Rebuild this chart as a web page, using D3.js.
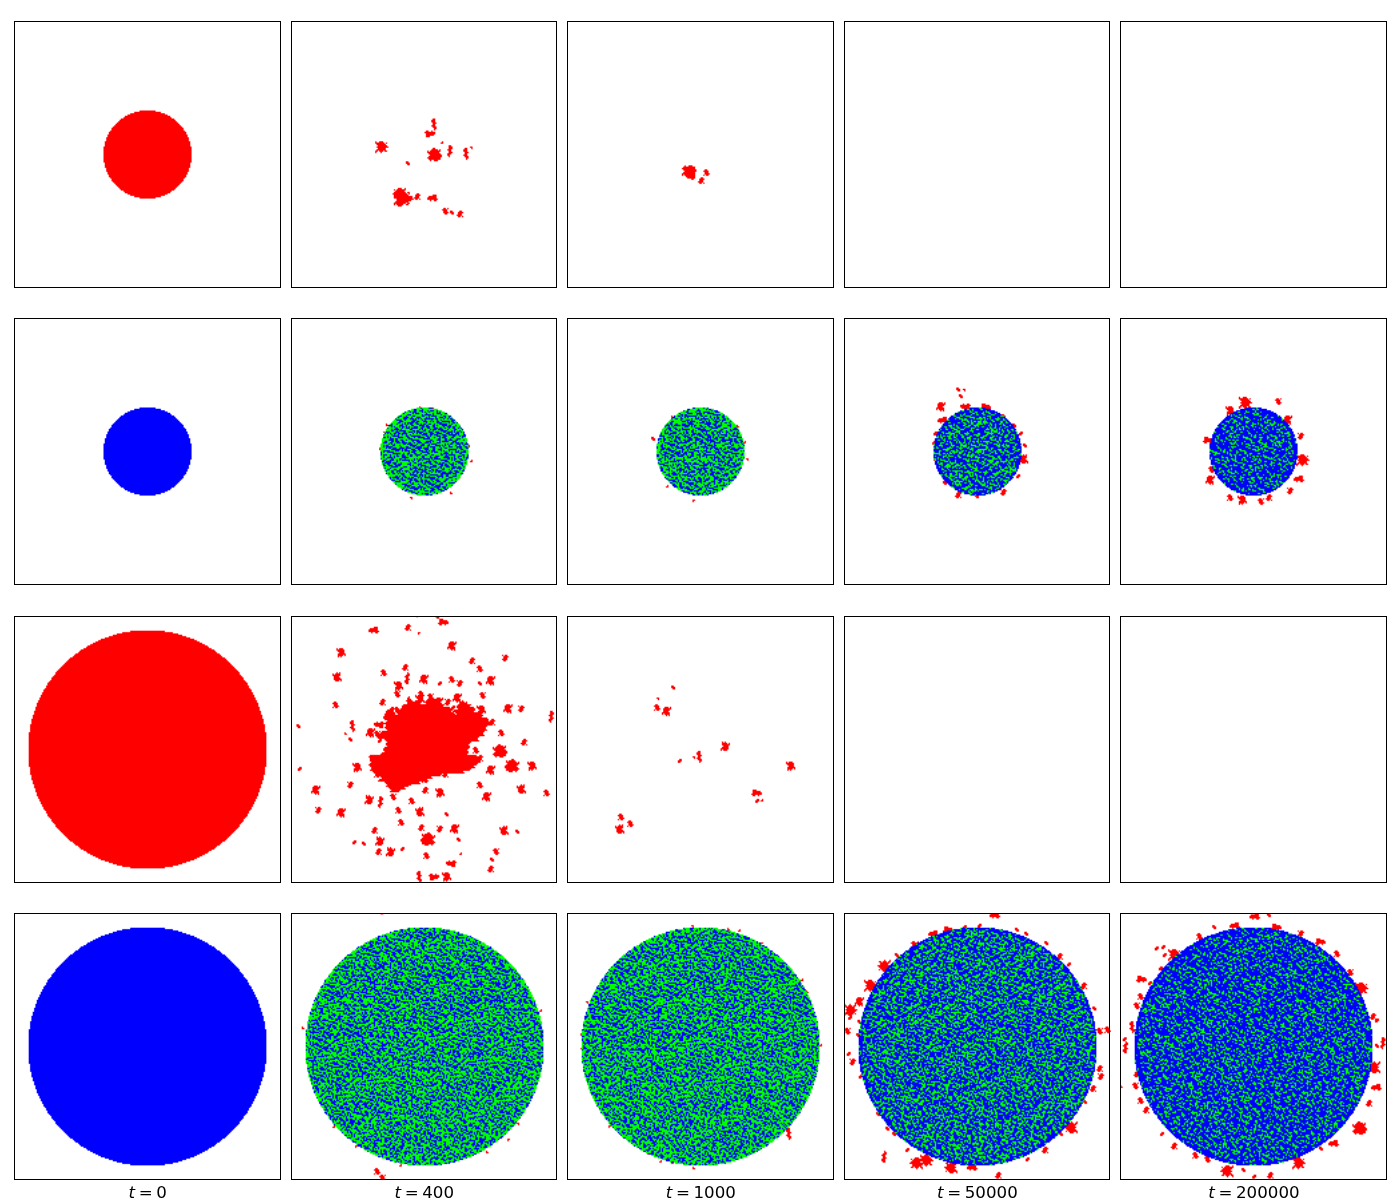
<!DOCTYPE html>
<html>
<head>
<meta charset="utf-8">
<script src="https://cdn.jsdelivr.net/npm/d3@7/dist/d3.min.js"></script>
<style>
html,body{margin:0;padding:0;background:#fff}
#wrap{position:relative;width:1400px;height:1200px;overflow:hidden}
canvas{position:absolute}
svg{position:absolute;left:0;top:0}
</style>
</head>
<body>
<div id="wrap"></div>
<script>
const timeLabels = ["0","400","1000","50000","200000"];
const gridSize = 200;

// disc radius in cells for each row, blank rows have no disc after t=0
const discRadius = [33, 33, 89.5, 89.5];
const discKinds = ["red","blue","red","blue"];

// green seed level per row/time, on the 0-100 scale of two texture digits
const greenLevel = [
  [0,0,0,0,0],
  [0,36,36,24,17],
  [0,0,0,0,0],
  [0,36,36,24,17]
];
const rimLevel = [
  [0,0,0,0,0],
  [0,44,44,10,6],
  [0,0,0,0,0],
  [0,44,44,10,6]
];

// speckle texture read from the blue/green areas
const speckle = [
"718253906417285930164728591036482759014682739501846273950148",
"229847116530948227619350874412968305771249680335912746085219",
"961302775884126049573318260957741830269548117036925884310672",
"340718892261573904886125047730896152434071965828413760992531",
"875126340997208615342980716254173698205843167209576318440786",
"112689457303861472090653381947026514798325640871239045567293",
"690374218855147630928471206683951402367196085524867193302418",
"254961780033926581741056993127408836125730419968350272618845",
"807312649926085317492638450571962043878214653009487136725390",
"431590827461730954206819377340285169915068273642918054186723",
"166847035298415007382954116825739480426397106583174620990258",
"592038164770263849615102783496018257643815924770356981204637",
"748215906381954270136687245093764120598230716449801523672914",
"023679481152608937452311860725431968740196285337614098853206",
"915340827764192085673940528118690357221876409563028417396741",
"367802195430756214889067433256184902653401178920935762041885",
"484129673018345790221578961340727185939650842316487109576320",
"709561382946102837566432089175803246014829767081935224618493",
"231876045597648120397105642889361750428173506942760398155174",
"856094317223095486710948173260594138762605139418528073669021",
"190437682851730269445826390714208563197348026751894150327968",
"642718509366482751037193568402976120854819473602316987540231",
"378260941105937628814560721937134805296057182346079251886459",
"914583276640128395560379284156800749361426905783125604917320",
"025791438873465012796284053671295318740938216590743862031586",
"783146902219807543341906872345048126975162048317569420378915",
"541902768436271980625013495782613790148370659204386175926047",
"260837419085936124798450627139768042351297486651073920548163",
"697324150762480395213876904526190863472506139288742351069874",
"408159763321057846965241380974325710986841270375916048233591",
"136720984598612037480793516208847392155063928410265887713406",
"852491036047398625116320849761502486739218406597134026958271",
"379064821715240983697158230486937015264790851362408175640329",
"621385709482067314820549173025684391807134926045871392516780",
"094712568330951782461836905217403968521657083919246703885142",
"745830129674128590372064781953260147936482015738590426107638",
"218569340901763428159237604868719530274015968241376859243015",
"563102897145829036740981352074386215689327140965802134778926",
"907426318652301784296510874132950768413086259274613908051347",
"134879052268947150383762196540218439705561837026498751362890"
];

// cell patterns for the wandering red clusters
const stamps = {
  d:["#.","##"],
  t:["##.","###",".##"],
  u:[".##..","####.",".###.",".####","#.##."],
  s:["#.###..","######.",".#####.","..####.",".######",".####.#",".#.#..."],
  f:["....###.",".######.","#######.","########","..#..##."],
  m:["#..###....","#######.#.",".#######..","..#######.",".#########","..######..",".#######..","##.###.##.","#...#....."],
  n:["..#..###...",".#########.","##########.",".##########","..#########",".#########.","#########..","#.########.","...#####.#.","....##....."],
  l:["...###........","#.#####..##...","#########.##..",".##########...","..###########.","..#############",".#############.","##############.","#.#########....","...#######.#...",".....####.##...",".....##........"],
  v:[".##.","###.","###.",".###",".##.","###.",".###","..##","..#."]
};

// main body of the big red patch at t=400: row, then start/end pairs
const bigPatchSpans = [
[62,102,110],[64,88,92,100,111],[66,84,114,125,134],[68,83,118,124,136],[70,72,75,81,120,122,137],
[72,71,76,79,121,123,140],[74,70,143],[76,69,146],[78,72,147],[80,70,147],[82,71,146],[84,71,145],
[86,68,144],[88,64,143],[90,66,140],[92,70,139],[94,72,134],[96,71,132],[98,70,133],[100,69,131],
[102,68,132],[104,61,138],[106,60,141],[108,59,140],[110,59,139],[112,59,136],[114,60,134],[116,61,128],
[118,65,112],[120,67,104],[122,66,100],[124,70,95],[126,72,88],[128,74,84],[130,75,81]
];

// red clusters: column, row, pattern
const clustersR1T400 = [[107,77,'v'],[104,84,'f'],[68,94,'m'],[113,91,'d'],[107,100,'n'],[119,97,'v'],[131,99,'v'],[135,95,'d'],[87,106,'t'],[81,129,'m'],[84,133,'l'],[94,131,'u'],[106,132,'f'],[115,142,'u'],[120,143,'t'],[126,144,'u']];
const clustersR1T1000 = [[91,113,'n'],[93,116,'u'],[104,113,'u'],[100,119,'u']];
const clustersR2T400 = [[72,80,'d'],[70,86,'d'],[97,67,'d'],[135,107,'d'],[67,98,'d'],[133,96,'d'],[120,131,'d'],[90,135,'d'],[107,68,'d']];
const clustersR2T1000 = [[64,90,'t'],[135,106,'d'],[128,81,'d'],[75,126,'d'],[95,137,'d'],[133,93,'d'],[79,74,'d']];
const clustersR2T50000 = [[85,53,'t'],[90,54,'d'],[87,58,'t'],[72,66,'s'],[91,66,'f'],[106,66,'f'],[74,76,'f'],[119,73,'t'],[127,80,'t'],[132,86,'t'],[68,86,'t'],[67,93,'t'],[135,95,'t'],[134,105,'s'],[68,106,'t'],[130,118,'t'],[119,130,'u'],[85,132,'u'],[75,123,'t'],[99,133,'t']];
const clustersR2T200000 = [[94,63,'m'],[118,62,'u'],[82,69,'s'],[125,76,'s'],[135,88,'u'],[66,91,'f'],[137,106,'m'],[68,113,'u'],[134,120,'f'],[67,121,'s'],[127,129,'u'],[111,134,'u'],[91,136,'s'],[105,137,'u'],[82,134,'u']];
const clustersR3T400 = [
[96,62,'s'],[104,60,'u'],[88,64,'u'],[84,68,'u'],[128,66,'s'],[75,70,'u'],[146,78,'u'],[60,106,'u'],[64,118,'u'],[75,127,'u'],[132,112,'u'],[115,118,'u'],[138,100,'u'],[64,88,'u'],[94,64,'t'],[110,64,'s'],[139,84,'u'],[141,106,'u'],[100,122,'u'],[70,114,'u'],[72,74,'u'],[133,70,'u'],[121,68,'t'],[66,93,'t'],[136,91,'u'],[88,124,'u'],
[62,10,'f'],[87,8,'u'],[96,13,'d'],[114,4,'f'],[109,0,'t'],[94,0,'d'],[37,27,'s'],[120,22,'s'],[160,31,'u'],[135,33,'u'],[141,39,'u'],[34,45,'s'],[69,42,'u'],[85,38,'u'],[87,46,'v'],[99,47,'s'],[80,52,'s'],[79,58,'u'],[120,47,'u'],[111,50,'t'],[126,50,'u'],[149,48,'s'],[141,50,'t'],[143,59,'u'],[97,58,'u'],[124,61,'s'],[117,64,'u'],[68,64,'u'],[33,66,'u'],[89,64,'v'],[142,70,'s'],[162,69,'s'],[172,69,'u'],[195,75,'v'],[79,70,'u'],[5,82,'t'],[46,82,'v'],[150,79,'u'],[66,81,'f'],[59,87,'s'],[157,87,'u'],[44,92,'t'],[41,88,'d'],[174,94,'u'],[156,101,'n'],[6,114,'t'],[49,113,'s'],[165,112,'n'],[180,112,'s'],[149,115,'s'],[44,126,'u'],[18,130,'s'],[141,126,'u'],[172,129,'s'],[191,132,'u'],[146,135,'s'],[58,137,'s'],[67,139,'v'],[111,132,'s'],[76,135,'u'],[90,138,'u'],[100,130,'u'],[20,145,'u'],[37,147,'s'],[80,145,'u'],[96,146,'s'],[82,154,'u'],[97,158,'u'],[111,159,'u'],[122,159,'s'],[116,148,'t'],[159,160,'s'],[169,161,'t'],[62,160,'u'],[66,168,'s'],[47,169,'t'],[54,170,'t'],[102,167,'n'],[125,167,'t'],[65,176,'u'],[74,176,'s'],[83,174,'t'],[101,179,'u'],[153,176,'u'],[150,182,'t'],[149,189,'u'],[120,185,'f'],[127,178,'d'],[96,195,'v'],[107,195,'f'],[116,195,'s']
];
const clustersR3T1000 = [[79,53,'t'],[68,62,'d'],[67,68,'u'],[74,71,'s'],[118,97,'s'],[84,108,'t'],[99,105,'v'],[95,106,'d'],[167,112,'s'],[142,132,'f'],[142,138,'t'],[146,138,'d'],[40,150,'u'],[39,159,'s'],[47,155,'u']];
const clustersR4T400 = [[64,193,'u'],[68,198,'u'],[68,0,'d'],[32,160,'d'],[49,175,'d'],[82,189,'d'],[147,179,'d'],[170,158,'d'],[9,86,'d'],[187,73,'d'],[163,170,'d'],[186,120,'d']];
const clustersR4T1000 = [[166,165,'v'],[94,10,'d'],[121,12,'d'],[129,13,'d'],[146,23,'d'],[176,50,'d'],[180,59,'d'],[15,67,'d'],[11,91,'d'],[11,101,'d'],[32,160,'d'],[70,186,'d'],[95,191,'d'],[60,180,'d'],[79,187,'d'],[190,99,'d']];
const clustersR4T50000 = [[113,1,'f'],[30,39,'m'],[20,54,'m'],[11,66,'s'],[5,72,'m'],[4,78,'t'],[11,81,'t'],[2,88,'u'],[10,91,'t'],[3,105,'t'],[6,111,'u'],[12,122,'t'],[67,15,'f'],[54,23,'f'],[39,31,'t'],[78,12,'f'],[90,10,'t'],[101,9,'t'],[129,12,'t'],[136,15,'t'],[151,22,'t'],[161,32,'u'],[168,38,'t'],[179,54,'u'],[187,71,'t'],[191,88,'u'],[197,87,'u'],[191,116,'u'],[192,122,'u'],[186,131,'u'],[180,141,'t'],[170,160,'m'],[162,165,'t'],[150,177,'u'],[137,184,'t'],[115,196,'u'],[96,190,'f'],[80,190,'m'],[62,185,'m'],[54,187,'m'],[30,182,'v'],[47,177,'t'],[37,165,'t'],[25,150,'t'],[32,161,'t']];
const clustersR4T200000 = [[101,2,'f'],[111,1,'t'],[59,17,'u'],[32,25,'t'],[27,26,'t'],[33,31,'t'],[41,31,'m'],[70,10,'t'],[86,9,'f'],[117,10,'f'],[135,15,'u'],[150,21,'f'],[162,30,'u'],[172,44,'u'],[181,56,'m'],[189,77,'u'],[192,80,'t'],[197,97,'v'],[192,99,'t'],[190,115,'m'],[192,130,'f'],[186,142,'u'],[179,161,'n'],[172,147,'t'],[160,172,'f'],[150,176,'t'],[134,187,'m'],[112,196,'u'],[100,197,'t'],[80,193,'m'],[92,192,'t'],[65,184,'u'],[56,181,'u'],[40,174,'u'],[31,165,'t'],[19,147,'u'],[15,140,'u'],[11,129,'u'],[1,130,'d'],[12,120,'u'],[4,100,'v'],[3,94,'t'],[9,85,'v'],[12,69,'u'],[15,62,'u'],[16,49,'f'],[22,52,'t'],[30,41,'t']];

const clusterTable = [
  [[],clustersR1T400,clustersR1T1000,[],[]],
  [[],clustersR2T400,clustersR2T1000,clustersR2T50000,clustersR2T200000],
  [[],clustersR3T400,clustersR3T1000,[],[]],
  [[],clustersR4T400,clustersR4T1000,clustersR4T50000,clustersR4T200000]
];

const colors = {red:"#ff0000",blue:"#0000ff",green:"#00ff00"};
const panelSize = 266.5;
const frameWidth = [266,265,266,265,266];
const xCol = d3.scaleLinear().domain([0,4]).range([14,1120.2]);
const yRow = d3.scaleLinear().domain([0,3]).range([21,913]);
const cellScale = d3.scaleLinear().domain([0,gridSize]).range([0,gridSize]);

const wrap = d3.select("#wrap");

function greenMask(row,col,R){
  const mask=new Uint8Array(gridSize*gridSize);
  const gl=greenLevel[row][col], rl=rimLevel[row][col];
  const H=speckle.length, W=speckle[0].length;
  const at=(r,c)=>+speckle[((r%H)+H)%H][((c%W)+W)%W];
  const mark=(r,c)=>{ if(r>=0&&c>=0&&r<gridSize&&c<gridSize) mask[r*gridSize+c]=1; };
  for(let r=0;r<gridSize;r++){
    for(let c=0;c<gridSize;c++){
      const tr=r+col*7+Math.floor(c/17)*11;
      const tc=c+Math.floor(r/13)*23+col*13+row*5;
      const v=at(tr,tc)*10+at(tr,tc+1);
      const d=Math.hypot(c+.5-100,r+.5-100);
      if(v>=(d>R-2.5?rl:gl)) continue;
      const horiz=at(tr+1,tc)%2===0;
      const len=at(tr+2,tc)%2;
      let rr=r,cc=c;
      mark(rr,cc);
      for(let k=0;k<len;k++){ if(horiz)cc++; else rr++; mark(rr,cc); }
      if(at(tr+3,tc)%3===0){ if(horiz)rr++; else cc++; mark(rr,cc); }
    }
  }
  return mask;
}

function paintPanel(ctx,row,col){
  const put=(c,r,color)=>{
    if(c<0||r<0||c>=gridSize||r>=gridSize) return;
    ctx.fillStyle=color;
    ctx.fillRect(cellScale(c),cellScale(r),1,1);
  };
  // red wandering clusters
  clusterTable[row][col].forEach((d,i)=>{
    const pat=stamps[d[2]];
    const h=pat.length, w=pat[0].length;
    const fx=i%2===1, fy=i%3===1;
    pat.forEach((line,ry)=>{
      for(let rx=0;rx<line.length;rx++){
        if(line[rx]!=="#") continue;
        const px=fx?w-1-rx:rx, py=fy?h-1-ry:ry;
        put(d[0]+px-(w>>1),d[1]+py-(h>>1),colors.red);
      }
    });
  });
  if(row===2&&col===1){
    bigPatchSpans.forEach(s=>{
      for(let k=1;k<s.length;k+=2){
        for(let c=s[k];c<=s[k+1];c++){
          put(c,s[0],colors.red);
          put(c+((s[0]%4===0)?1:-1),s[0]+1,colors.red);
        }
      }
    });
  }
  // disc
  const R=discRadius[row];
  const kind=discKinds[row];
  if(col===0||kind==="blue"){
    const mask=col>0?greenMask(row,col,R):null;
    for(let r=0;r<gridSize;r++){
      for(let c=0;c<gridSize;c++){
        if(Math.hypot(c+.5-100,r+.5-100)>R) continue;
        put(c,r,mask&&mask[r*gridSize+c]?colors.green:colors[kind]);
      }
    }
  }
}

d3.range(4).forEach(row=>{
  d3.range(5).forEach(col=>{
    const cv=wrap.append("canvas")
      .attr("width",gridSize).attr("height",gridSize)
      .style("left",Math.round(xCol(col))+"px").style("top",Math.round(yRow(row))+"px")
      .style("width",panelSize+"px").style("height",panelSize+"px");
    paintPanel(cv.node().getContext("2d"),row,col);
  });
});

const svg=wrap.append("svg").attr("width",1400).attr("height",1200);
d3.range(4).forEach(row=>{
  svg.append("g").selectAll("rect").data(timeLabels).join("rect")
    .attr("x",(d,i)=>Math.round(xCol(i))+.5)
    .attr("y",Math.round(yRow(row))+.5)
    .attr("width",(d,i)=>frameWidth[i]).attr("height",266)
    .attr("fill","none").attr("stroke","#000").attr("stroke-width",1);
});
const lab=svg.append("g").selectAll("text").data(timeLabels).join("text")
  .attr("x",(d,i)=>xCol(i)+panelSize/2+.5)
  .attr("y",1198)
  .attr("text-anchor","middle")
  .attr("font-family","DejaVu Sans")
  .attr("font-size",16.67)
  .attr("fill","#000");
lab.append("tspan").attr("font-style","italic").text("t");
lab.append("tspan").attr("dx",3.6).text("=");
lab.append("tspan").attr("dx",3.6).text(d=>d);
</script>
</body>
</html>
